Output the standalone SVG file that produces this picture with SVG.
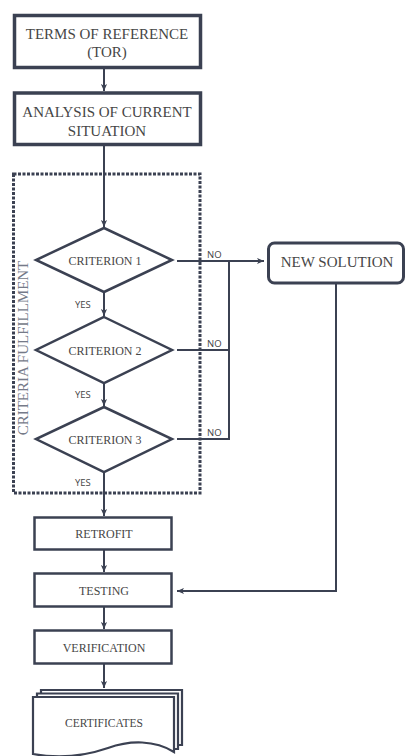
<svg xmlns="http://www.w3.org/2000/svg" width="406" height="756" viewBox="0 0 406 756">
<style>
.ln{fill:none;stroke:#3b4152;stroke-width:2}
.bx{fill:#fff;stroke:#3b4152}
.t{font-family:"Liberation Serif","DejaVu Serif",serif;fill:#464646;text-anchor:middle}
.s{font-family:"Open Sans","Liberation Sans",sans-serif;fill:#444;font-size:9.5px}
</style>
<defs>
<marker id="ah" viewBox="0 0 8 8" refX="8" refY="4" markerWidth="7" markerHeight="7" markerUnits="userSpaceOnUse" orient="auto">
<path d="M0,0.5 L8,4 L0,7.5 L2,4 Z" fill="#3b4152"/>
</marker>
</defs>
<rect width="406" height="756" fill="#fff"/>

<g id="criteria-fulfillment">
<rect x="13.5" y="174" width="186.5" height="319" fill="none" stroke="#3b4152" stroke-width="3" stroke-dasharray="3 1.5"/>
<text x="28" y="348" transform="rotate(-90 28 348)" class="t" font-family="Liberation Serif, serif" style="font-size:15px;fill:#757a88">CRITERIA FULFILLMENT</text>
</g>

<g id="connectors">
<path class="ln" d="M104,68 V91" marker-end="url(#ah)"/>
<path class="ln" d="M104,146 V227" marker-end="url(#ah)"/>
<path class="ln" d="M104,293 V316" marker-end="url(#ah)"/>
<path class="ln" d="M104,383 V406" marker-end="url(#ah)"/>
<path class="ln" d="M104,473 V516" marker-end="url(#ah)"/>
<path class="ln" d="M104,550 V572" marker-end="url(#ah)"/>
<path class="ln" d="M104,607 V629" marker-end="url(#ah)"/>
<path class="ln" d="M104,664 V688" marker-end="url(#ah)"/>
<path class="ln" d="M177,261 H264" marker-end="url(#ah)"/>
<path class="ln" d="M177,350 H229"/>
<path class="ln" d="M177,439 H229"/>
<path class="ln" d="M229,261 V440"/>
<path class="ln" d="M336,284 V591 H177" marker-end="url(#ah)"/>
<text x="207" y="258" class="s">NO</text>
<text x="207" y="347" class="s">NO</text>
<text x="207" y="436" class="s">NO</text>
<text x="75" y="308" class="s">YES</text>
<text x="75" y="398" class="s">YES</text>
<text x="75" y="486" class="s">YES</text>
</g>

<g id="tor">
<rect x="14.5" y="15.5" width="186" height="52" class="bx" stroke-width="3.5"/>
<text x="107" y="39" class="t" style="font-size:15px">TERMS OF REFERENCE</text>
<text x="107" y="57" class="t" style="font-size:15px">(TOR)</text>
</g>

<g id="analysis">
<rect x="14.5" y="93" width="186" height="51.5" class="bx" stroke-width="3.5"/>
<text x="107" y="117" class="t" style="font-size:15px">ANALYSIS OF CURRENT</text>
<text x="107" y="136" class="t" style="font-size:15px">SITUATION</text>
</g>

<g id="criterion1">
<polygon points="104,228 172,260 104,292 36,260" class="bx" stroke-width="2.5"/>
<text x="105" y="264.5" class="t" style="font-size:12px">CRITERION 1</text>
</g>

<g id="criterion2">
<polygon points="104,317 172,350 104,383 36,350" class="bx" stroke-width="2.5"/>
<text x="105" y="354.5" class="t" style="font-size:12px">CRITERION 2</text>
</g>

<g id="criterion3">
<polygon points="104,407 172,439 104,472 36,439" class="bx" stroke-width="2.5"/>
<text x="105" y="443.5" class="t" style="font-size:12px">CRITERION 3</text>
</g>

<g id="new-solution">
<rect x="268.5" y="243" width="135" height="40" rx="6" class="bx" stroke-width="3"/>
<text x="337" y="267" class="t" style="font-size:15px">NEW SOLUTION</text>
</g>

<g id="retrofit">
<rect x="34.5" y="517.5" width="137" height="32" class="bx" stroke-width="2.5"/>
<text x="104" y="537.5" class="t" style="font-size:12px">RETROFIT</text>
</g>

<g id="testing">
<rect x="34.5" y="573.5" width="137" height="33" class="bx" stroke-width="2.5"/>
<text x="104" y="594.5" class="t" style="font-size:12px">TESTING</text>
</g>

<g id="verification">
<rect x="34.5" y="630.5" width="137" height="33" class="bx" stroke-width="2.5"/>
<text x="104" y="651.5" class="t" style="font-size:12px">VERIFICATION</text>
</g>

<g id="certificates">
<path d="M41,693 V690 H182 V745 H178" class="bx" stroke-width="2.2"/>
<path d="M37,697 V693.5 H178 V749 H174" class="bx" stroke-width="2.2"/>
<path d="M33,697 H174 V752 C155,740 130,740 108,748 C85,756 60,759 33,754 Z" class="bx" stroke-width="2.2"/>
<text x="104" y="727" class="t" style="font-size:11.5px">CERTIFICATES</text>
</g>
</svg>
